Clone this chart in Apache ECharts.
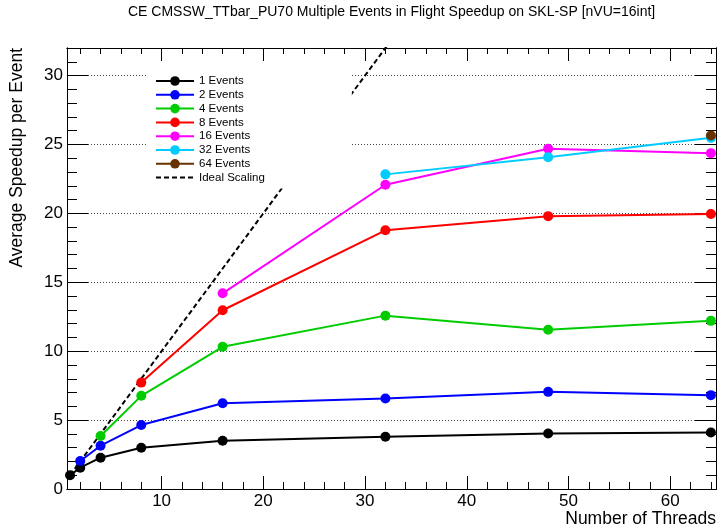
<!DOCTYPE html>
<html>
<head>
<meta charset="utf-8">
<title>CE CMSSW_TTbar_PU70 Speedup</title>
<script src="https://cdn.jsdelivr.net/npm/echarts@6/dist/echarts.min.js"></script>
<style>
  html, body { margin: 0; padding: 0; background: #fff; }
  #chart { width: 717px; height: 531px; }
</style>
</head>
<body>
<div id="chart"></div>
<script>
// thread counts; a series with N events starts at N threads
const threads = [1, 2, 4, 8, 16, 32, 48, 64];
const events1 = [1.0, 1.55, 2.27, 2.99, 3.5, 3.79, 4.03, 4.1];
const events2 = [2.03, 3.14, 4.64, 6.22, 6.57, 7.05, 6.81];
const events4 = [3.84, 6.76, 10.32, 12.58, 11.55, 12.2];
const events8 = [7.72, 12.97, 18.77, 19.8, 19.95];
const events16 = [14.2, 22.08, 24.69, 24.37];
const events32 = [22.83, 24.08, 25.48];
const events64 = [25.65];
const idealThreads = [1, 64];
const idealSpeedup = [1, 64];

const xMajorTicks = [10, 20, 30, 40, 50, 60];
const xMinorTicks = [2, 4, 6, 8, 12, 14, 16, 18, 22, 24, 26, 28, 32, 34, 36, 38,
  42, 44, 46, 48, 52, 54, 56, 58, 62, 64];

const FONT = "'Liberation Sans', Arial, Helvetica, sans-serif";

function withThreads(values) {
  const start = threads.length - values.length;
  return values.map((v, i) => [threads[start + i], v]);
}

function eventSeries(name, color, values) {
  return {
    name: name,
    type: "line",
    data: withThreads(values),
    symbol: "circle",
    symbolSize: 10,
    lineStyle: { color: color, width: 2 },
    itemStyle: { color: color },
    emphasis: { disabled: true },
  };
}

// ROOT style frame: ticks inside on all four sides
function xAxisDef(position, tickValues, length, isMain) {
  return {
    type: "value",
    position: position,
    min: 0.7,
    max: 64.5,
    axisLine: { show: true, onZero: false, lineStyle: { color: "#000", width: 1 } },
    axisTick: {
      show: true,
      inside: true,
      length: length,
      customValues: tickValues,
      lineStyle: { color: "#000", width: 1 },
    },
    axisLabel: isMain
      ? { show: true, customValues: xMajorTicks, color: "#000", fontSize: 17, fontFamily: FONT, margin: 4 }
      : { show: false },
    splitLine: { show: false },
  };
}

function yAxisDef(position, interval, length, isMain) {
  return {
    type: "value",
    position: position,
    min: 0,
    max: 32,
    interval: interval,
    axisLine: { show: true, onZero: false, lineStyle: { color: "#000", width: 1 } },
    axisTick: { show: true, inside: true, length: length, lineStyle: { color: "#000", width: 1 } },
    axisLabel: isMain
      ? { show: true, color: "#000", fontSize: 17, fontFamily: FONT, margin: 4, showMaxLabel: false }
      : { show: false },
    splitLine: isMain
      ? { show: true, lineStyle: { color: "#444", width: 1, type: [1, 2] } }
      : { show: false },
  };
}

const chart = echarts.init(document.getElementById("chart"), null, { renderer: "canvas" });

const option = {
  animation: false,
  backgroundColor: "#fff",
  title: {
    text: "CE CMSSW_TTbar_PU70 Multiple Events in Flight Speedup on SKL-SP [nVU=16int]",
    left: 128,
    top: 5,
    padding: 0,
    textStyle: { color: "#000", fontSize: 14, fontWeight: "normal", fontFamily: FONT },
  },
  grid: { left: 67, right: 1, top: 48, bottom: 42, containLabel: false },
  legend: {
    orient: "vertical",
    left: 148,
    top: 68,
    padding: [7, 87, 5, 7],
    backgroundColor: "#fff",
    itemWidth: 38,
    itemHeight: 12,
    itemGap: 1.8,
    textStyle: { color: "#000", fontSize: 11.5, fontFamily: FONT },
    data: [
      "1 Events", "2 Events", "4 Events", "8 Events",
      "16 Events", "32 Events", "64 Events",
      { name: "Ideal Scaling", itemStyle: { opacity: 0 } },
    ],
  },
  xAxis: [
    xAxisDef("bottom", xMajorTicks, 13, true),
    xAxisDef("bottom", xMinorTicks, 7, false),
    xAxisDef("top", xMajorTicks, 13, false),
    xAxisDef("top", xMinorTicks, 6, false),
  ],
  yAxis: [
    yAxisDef("left", 5, 21, true),
    yAxisDef("left", 1, 10, false),
    yAxisDef("right", 5, 21, false),
    yAxisDef("right", 1, 10, false),
  ],
  graphic: [
    {
      type: "text",
      x: 17.5,
      y: 48,
      rotation: Math.PI / 2,
      style: {
        text: "Average Speedup per Event",
        fill: "#000",
        font: "17.5px " + FONT,
        align: "right",
        verticalAlign: "middle",
      },
    },
    {
      type: "text",
      x: 716,
      y: 519,
      style: {
        text: "Number of Threads",
        fill: "#000",
        font: "17.5px " + FONT,
        align: "right",
        verticalAlign: "middle",
      },
    },
  ],
  series: [
    eventSeries("1 Events", "#000000", events1),
    eventSeries("2 Events", "#0000ff", events2),
    eventSeries("4 Events", "#00cc00", events4),
    eventSeries("8 Events", "#ff0000", events8),
    eventSeries("16 Events", "#ff00ff", events16),
    eventSeries("32 Events", "#00ccff", events32),
    eventSeries("64 Events", "#663300", events64),
    {
      name: "Ideal Scaling",
      type: "line",
      data: idealThreads.map((t, i) => [t, idealSpeedup[i]]),
      symbol: "none",
      clip: true,
      lineStyle: { color: "#000", width: 2, type: [5, 3] },
      itemStyle: { color: "#000", opacity: 0 },
      emphasis: { disabled: true },
    },
  ],
};

chart.setOption(option);
</script>
</body>
</html>
